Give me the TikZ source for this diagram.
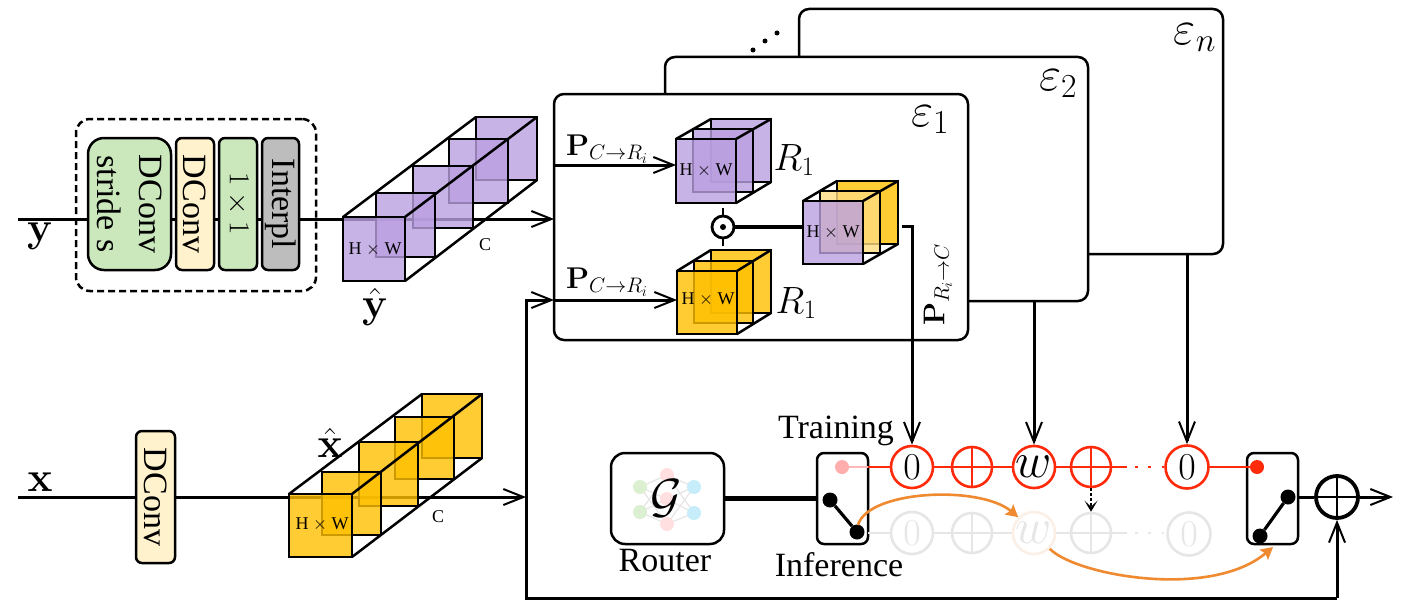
\documentclass[tikz,border=0pt]{standalone}
\usepackage{fix-cm}
\usepackage[no-math]{fontspec}
\setmainfont{Liberation Serif}
\usetikzlibrary{arrows.meta,calc}
\definecolor{cgreen}{HTML}{CBE8BD}
\definecolor{cyel}{HTML}{FFF2CC}
\definecolor{cgray}{HTML}{BDBDBD}
\definecolor{cpur}{HTML}{BBA0E0}
\definecolor{corg}{HTML}{FFC000}
\definecolor{clyel}{HTML}{FFDD80}
\definecolor{cred}{HTML}{FF2A0A}
\definecolor{cfade}{HTML}{E6E6E6}
\definecolor{cpale}{HTML}{FBEFE6}
\definecolor{carc}{HTML}{F08A30}
\newcommand\fs[1]{\fontsize{#1}{#1}\selectfont}
\tikzset{
  x=1pt,y=-1pt,
  tipb/.tip={Straight Barb[length=20pt,width=16pt,line width=2pt,sharp]},
  arr/.style={line width=3pt,-tipb},
  plain/.style={line width=3pt},
  blk/.style={draw=black,line width=2.5pt,inner sep=0pt,outer sep=0pt,align=center,rounded corners=#1},
  blk/.default=6pt,
  facest/.style={draw=black,line width=2.5pt,inner sep=0pt,outer sep=0pt,fill opacity=.8,text opacity=1},
  edgeln/.style={line width=2.5pt,line cap=round},
  rc/.style={circle,draw=cred,line width=2.6pt,fill=white,inner sep=0pt,minimum size=#1},
  gc/.style={circle,draw=cfade,line width=2.6pt,fill=white,inner sep=0pt,minimum size=#1,text=cfade},
  plusmark/.style={path picture={\draw[#1,line width=2.4pt] (path picture bounding box.north)--(path picture bounding box.south) (path picture bounding box.west)--(path picture bounding box.east);}},
  dotn/.style={circle,fill=#1,inner sep=0pt,minimum size=14pt},
  netn/.style={circle,fill=#1,inner sep=0pt,minimum size=14pt},
  lbl/.style={inner sep=0pt,outer sep=0pt,text=black},
  sparse/.style={line width=2.8pt,dash pattern=on 2.8pt off 10.5pt},
}
\newcommand\rectn[6]{\node[#6,minimum width={(#4-#2)*1pt},minimum height={(#5-#3)*1pt}] (#1) at ({(#2+#4)/2},{(#3+#5)/2}) {};}
\begin{document}
\begin{tikzpicture}
\useasboundingbox (0,0) rectangle (1402,610);
\fill[white] (0,0) rectangle (1402,610);

% expert stack
\rectn{en}{799}{9}{1223}{254}{blk=10pt,fill=white}
\rectn{e2}{665}{57}{1088}{301}{blk=10pt,fill=white}
\rectn{e1}{554}{94}{968}{340}{blk=10pt,fill=white}
\node[lbl] (len) at (1195,38) {\fs{48}$\varepsilon_n$};
\node[lbl] (le2) at (1058,84) {\fs{48}$\varepsilon_2$};
\node[lbl] (le1) at (930,120) {\fs{48}$\varepsilon_1$};
\foreach \nm/\px/\py in {da/753/50,db/765/41,dc/777/33}
  \node[circle,fill=black,inner sep=0pt,minimum size=5pt] (\nm) at (\px,\py) {};

% y branch
\coordinate (ys) at (18,219);
\coordinate (e1a) at (554,219);
\draw[arr] (ys) -- (e1a);
\node[blk=14pt,fill=none,dash pattern=on 7pt off 4pt,minimum width=240pt,minimum height=172pt] (dash) at (196,205) {};
\rectn{b1}{88}{138}{171}{270}{blk=16pt,fill=cgreen}
\rectn{b2}{176}{138}{214}{270}{blk=6pt,fill=cyel}
\rectn{b3}{219}{138}{257}{270}{blk=6pt,fill=cgreen}
\rectn{b4}{262}{138}{299}{270}{blk=6pt,fill=cgray}
\node[lbl,rotate=-90,align=center,font={\fontsize{34}{42}\selectfont}] (t1) at (b1) {DConv\\stride s};
\node[lbl,rotate=-90] (t2) at (b2) {\fs{34}DConv};
\node[lbl,rotate=-90] (t3) at (b3) {\fs{29}$1\times 1$};
\node[lbl,rotate=-90] (t4) at (b4) {\fs{34}Interpl};
\node[lbl] (ly) at (40,236) {\fs{42}$\mathbf{y}$};

% purple stack
\rectn{pa}{476}{117}{537}{180}{facest,fill=cpur}
\rectn{pb}{449}{139}{508}{203}{facest,fill=cpur}
\rectn{pc}{413}{166}{473}{228}{facest,fill=cpur}
\rectn{pd}{376}{193}{435}{257}{facest,fill=cpur}
\rectn{pe}{343}{217}{405}{281}{facest,fill=cpur}
\draw[edgeln] (pe.north west)--(pa.north west) (pe.north east)--(pa.north east) (pe.south east)--(pa.south east);
\node[lbl] (pt) at (375,249) {\fs{18}H $\times$ W};
\node[lbl] (pC) at (485,245) {\fs{18}C};
\node[lbl] (lyh) at (375,307) {\fs{42}$\hat{\mathbf{y}}$};

% x branch
\coordinate (xs) at (18,497);
\coordinate (xe) at (526,497);
\draw[arr] (xs) -- (xe);
\rectn{dc2}{136}{431}{175}{563}{blk=6pt,fill=cyel}
\node[lbl,rotate=-90] (tdc) at (dc2) {\fs{34}DConv};
\node[lbl] (lx) at (40,482) {\fs{42}$\mathbf{x}$};

% yellow stack
\rectn{ya}{422}{394}{482}{458}{facest,fill=corg}
\rectn{yb}{395}{417}{454}{479}{facest,fill=corg}
\rectn{yc}{359}{442}{418}{506}{facest,fill=corg}
\rectn{yd}{322}{472}{381}{535}{facest,fill=corg}
\rectn{ye}{289}{494}{352}{557}{facest,fill=corg}
\draw[edgeln] (ye.north west)--(ya.north west) (ye.north east)--(ya.north east) (ye.south east)--(ya.south east);
\node[lbl] (yt) at (322,524) {\fs{18}H $\times$ W};
\node[lbl] (yC) at (438,517) {\fs{18}C};
\node[lbl] (lxh) at (330,443) {\fs{42}$\hat{\mathbf{x}}$};

% cubes inside e1
\rectn{q1}{711}{119}{771}{182}{facest,fill=cpur}
\rectn{q2}{693}{129}{753}{192}{facest,fill=cpur}
\rectn{q3}{676}{139}{736}{203}{facest,fill=cpur}
\draw[edgeln] (q3.north west)--(q1.north west) (q3.north east)--(q1.north east) (q3.south east)--(q1.south east);
\node[lbl] (qt) at (706,170) {\fs{18}H $\times$ W};
\rectn{r1}{711}{250}{771}{313}{facest,fill=corg}
\rectn{r2}{694}{261}{753}{323}{facest,fill=corg}
\rectn{r3}{677}{271}{737}{334}{facest,fill=corg}
\draw[edgeln] (r3.north west)--(r1.north west) (r3.north east)--(r1.north east) (r3.south east)--(r1.south east);
\node[lbl] (rt) at (708,299) {\fs{18}H $\times$ W};
\rectn{s1}{837}{181}{898}{244}{facest,fill=corg}
\rectn{s2}{820}{191}{880}{253}{facest,fill=clyel}
\rectn{s3}{803}{201}{863}{264}{facest,fill=cpur}
\draw[edgeln] (s3.north west)--(s1.north west) (s3.north east)--(s1.north east) (s3.south east)--(s1.south east);
\node[lbl] (st) at (833,232) {\fs{18}H $\times$ W};
\node[lbl] (lr1) at (794,160) {\fs{38}$R_1$};
\node[lbl] (lr2) at (796,303) {\fs{38}$R_1$};
\coordinate (ea) at (554,165);
\coordinate (eb) at (554,300);
\coordinate (qa) at (676,165);
\coordinate (ra) at (677,300);
\draw[arr] (ea) -- (qa);
\draw[arr] (eb) -- (ra);
\node[lbl] (lp1) at (607,149) {\fs{30}$\mathbf{P}_{C\to R_i}$};
\node[lbl] (lp2) at (607,282) {\fs{30}$\mathbf{P}_{C\to R_i}$};
\node[lbl,rotate=90] (lp3) at (938,285) {\fs{30}$\mathbf{P}_{R_i\to C}$};
\node[circle,draw=black,line width=2.8pt,fill=white,inner sep=0pt,minimum size=22pt] (od) at (723,227) {};
\node[circle,fill=black,inner sep=0pt,minimum size=6pt] (odd) at (od) {};
\draw[line width=2.5pt] (od.north) -- ++(0,-7) coordinate (odn);
\draw[line width=2.5pt] (od.south) -- ++(0,7) coordinate (ods);
\draw[line width=3.6pt] (od.east) -- (s3.west |- od.east);

% router
\rectn{ro}{611}{453}{724}{544}{blk=14pt,fill=white}
\foreach \nm/\px/\py in {n1/640/487,n2/640/512,n3/667/475,n4/667/499,n5/667/524,n6/694/487,n7/694/513}
  \coordinate (\nm) at (\px,\py);
\foreach \a in {n1,n2} \foreach \b in {n3,n4,n5} \draw[cfade,line width=1.2pt] (\a)--(\b);
\foreach \a in {n6,n7} \foreach \b in {n3,n4,n5} \draw[cfade,line width=1.2pt] (\a)--(\b);
\foreach \a in {n1,n2} \node[netn=cgreen!70!white] (m\a) at (\a) {};
\foreach \a in {n3,n4,n5} \node[netn=pink!50!white] (m\a) at (\a) {};
\foreach \a in {n6,n7} \node[netn=cyan!22!white] (m\a) at (\a) {};
\node[lbl] (lg) at (666,498) {\fs{48}$\mathcal{G}$};
\node[lbl] (lro) at (665,561) {\fs{34}Router};

% switch boxes
\rectn{sl}{817}{453}{868}{544}{blk=7pt,fill=white}
\rectn{sr}{1247}{453}{1298}{544}{blk=7pt,fill=white}
\draw[line width=4.5pt] (ro.east) -- (sl.west);
\node[lbl] (ltr) at (836,431) {\fs{34}Training};
\node[lbl] (lin) at (839,565) {\fs{34}Inference};

% red row
\coordinate (a0p) at (912,467);
\coordinate (a1p) at (972,467);
\coordinate (a2p) at (1034,467);
\coordinate (a3p) at (1091,467);
\coordinate (a4p) at (1187,467);
\coordinate (a3e) at (1127,467);
\coordinate (a4w) at (1135,467);
\node[dotn=pink!80!red!80!white] (dp) at (842,467) {};
\draw[pink!80!red!70!white,line width=2.6pt] (dp) -- (sl.east |- dp);
\draw[cred,line width=2.8pt] (sl.east |- dp) -- (a3e) (a4p) -- (1257,467);
\draw[cred,sparse] (a4w) -- (1166,467);
\node[rc=42pt] (a0) at (a0p) {\fs{38}$0$};
\node[rc=40pt,plusmark=cred] (a1) at (a1p) {};
\node[rc=42pt] (a2) at (a2p) {\fs{50}$w$};
\node[rc=40pt,plusmark=cred] (a3) at (a3p) {};
\node[rc=43pt] (a4) at (a4p) {\fs{38}$0$};
\node[dotn=cred] (dr) at (1257,467) {};

% gray row
\coordinate (g0p) at (912,533);
\coordinate (g1p) at (972,533);
\coordinate (g2p) at (1034,533);
\coordinate (g3p) at (1091,533);
\coordinate (g4p) at (1189,534);
\coordinate (g3e) at (1127,533);
\coordinate (g4w) at (1135,533);
\draw[cfade,line width=2.8pt] (sl.east |- g0p) -- (g3e);
\draw[cfade,sparse] (g4w) -- (1166,533);
\node[gc=42pt] (g0) at (g0p) {\fs{38}$0$};
\node[gc=40pt,plusmark=cfade] (g1) at (g1p) {};
\node[gc=42pt,draw=cpale] (g2) at (g2p) {\fs{50}$w$};
\node[gc=40pt,plusmark=cfade] (g3) at (g3p) {};
\node[gc=43pt] (g4) at (g4p) {\fs{38}$0$};

% switch contacts
\node[dotn=black,minimum size=15pt] (sa) at (830,500) {};
\node[dotn=black,minimum size=15pt] (sb) at (857,532) {};
\draw[line width=3.2pt] (sa)--(sb);
\node[dotn=black,minimum size=15pt] (sc) at (1288,497) {};
\node[dotn=black,minimum size=15pt] (sd) at (1260,536) {};
\draw[line width=3.2pt] (sc)--(sd);

% output
\node[circle,draw=black,line width=3.8pt,inner sep=0pt,minimum size=42pt,plusmark=black] (sum) at (1337,497) {};
\coordinate (oute) at (1393,497);
\draw[plain] (sr.east |- sum) -- (sum.west);
\draw[arr] (sum.east) -- (oute);

% feedback
\coordinate (fb) at (526,598);
\draw[arr] (sum.south |- fb) -- (sum.south);
\draw[arr] (sum.south |- fb) -- (fb) -- (fb |- eb) -- (eb);

% arrows from experts
\coordinate (so) at (902,226);
\draw[arr] (so) -- (so -| a0) -- (a0.north);
\draw[arr] (e2.south -| a2) -- (a2.north);
\draw[arr] (en.south -| a4) -- (a4.north);
\draw[line width=2.8pt,dotted,-{Stealth[length=11pt,width=13pt,inset=6pt]}] (a3.south) -- (g3.north);

% orange arcs
\draw[carc,line width=2.6pt,-{Stealth[length=12pt,width=13pt,inset=2pt]}] (858,525) .. controls (868,490) and (980,485) .. (g2.north west);
\draw[carc,line width=2.6pt,-{Stealth[length=12pt,width=13pt,inset=2pt]}] (g2.south east) .. controls (1075,575) and (1210,600) .. (1273,547);
\end{tikzpicture}
\end{document}
